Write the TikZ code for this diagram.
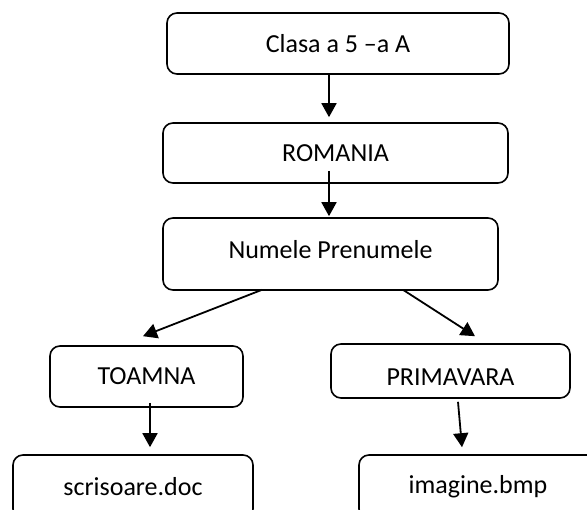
\documentclass[tikz,border=0pt]{standalone}
\usepackage{fontspec}
\setmainfont{Carlito}
\usetikzlibrary{arrows.meta}
\begin{document}
\begin{tikzpicture}[x=1pt,y=-1pt,
  box/.style={draw,line width=1.6pt,rounded corners=10pt,inner sep=0pt,
    font=\fontsize{26}{30}\selectfont},
  arr/.style={line width=1.8pt,-{Triangle[length=14pt,width=15pt]}}]
  \useasboundingbox (0,0) rectangle (587,510);
  \fill[white] (0,0) rectangle (587,510);
  \clip (0,0) rectangle (587,510);
  % boxes
  \node[box,minimum width=342pt,minimum height=61pt] (b1) at (338,43.5) {Clasa a 5 –a A};
  \node[box,minimum width=345pt,minimum height=60pt] (b2) at (335.5,153) {ROMANIA};
  \node[box,minimum width=335pt,minimum height=72pt,text height=17pt,text depth=8pt] (b3) at (330.5,254) {Numele Prenumele};
  \node[box,minimum width=193pt,minimum height=61pt] (b4) at (146.5,376.5) {TOAMNA};
  \node[box,minimum width=239pt,minimum height=54pt,text height=29pt,text depth=0pt] (b5) at (450.5,371) {PRIMAVARA};
  \node[box,minimum width=240pt,minimum height=64pt] (b6) at (133,487) {scrisoare.doc};
  \node[box,minimum width=238pt,minimum height=64pt] (b7) at (478,487) {imagine.bmp};
  % connectors
  \draw[arr] ([xshift=-9pt]b1.south) -- ([xshift=-6.5pt,yshift=5pt]b2.north);
  \draw[arr] ([xshift=-6.5pt,yshift=13pt]b2.south) -- ([xshift=-1.5pt,yshift=1pt]b3.north);
  \draw[arr] ([xshift=-68.5pt,yshift=1pt]b3.south) -- ([xshift=-3.5pt,yshift=9pt]b4.north);
  \draw[arr] ([xshift=72.5pt,yshift=1pt]b3.south) -- ([xshift=24.5pt,yshift=7pt]b5.north);
  \draw[arr] ([xshift=3.5pt,yshift=5pt]b4.south) -- ([xshift=17pt,yshift=7pt]b6.north);
  \draw[arr] ([xshift=7.5pt,yshift=-3pt]b5.south) -- ([xshift=-16pt,yshift=7pt]b7.north);
\end{tikzpicture}
\end{document}
